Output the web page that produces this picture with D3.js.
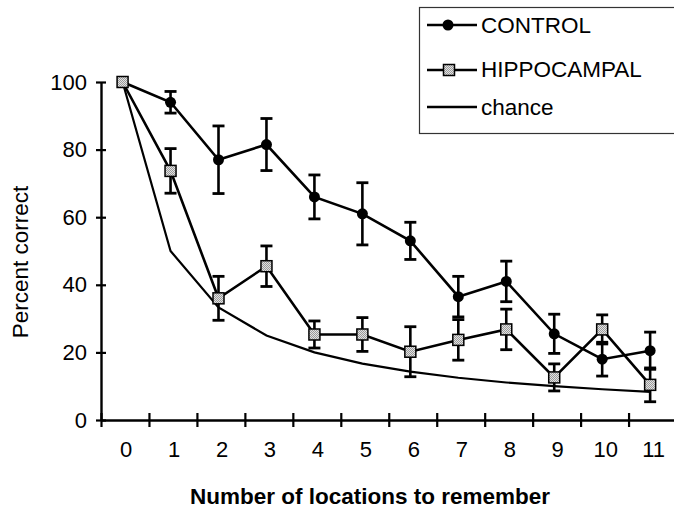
<!DOCTYPE html>
<html>
<head>
<meta charset="utf-8">
<script src="https://cdn.jsdelivr.net/npm/d3@7"></script>
<style>
  html, body { margin: 0; padding: 0; background: #fff; }
  svg { display: block; font-family: "Liberation Sans", Arial, Helvetica, sans-serif; }
</style>
</head>
<body>
<svg id="chart" width="674" height="510"></svg>
<script>
// Number of locations to remember (x categories)
const locations = [0, 1, 2, 3, 4, 5, 6, 7, 8, 9, 10, 11];

// Percent correct, control group, with error (± half-bar length)
const controlValues = [100, 94, 77, 81.5, 66, 61, 53, 36.5, 41, 25.5, 18, 20.5];
const controlErrors = [0, 3.2, 10, 7.7, 6.5, 9.2, 5.5, 6, 6, 5.8, 5, 5.5];

// Percent correct, hippocampal group, with error
const hippoValues = [100, 73.7, 36, 45.5, 25.3, 25.3, 20.2, 23.7, 26.8, 12.6, 26.8, 10.4];
const hippoErrors = [0, 6.6, 6.5, 6, 4, 5, 7.4, 6, 6, 4, 4.3, 5];

// Chance performance
const chanceValues = [100, 50, 33.3, 25, 20, 16.7, 14.3, 12.5, 11.1, 10, 9.1, 8.3];

const yTicks = [0, 20, 40, 60, 80, 100];
const legendLabels = ["CONTROL", "HIPPOCAMPAL", "chance"];

const svg = d3.select("#chart");

// Stippled grey fill for the square markers
const defs = svg.append("defs");
const pat = defs.append("pattern")
  .attr("id", "stipple").attr("width", 2).attr("height", 2)
  .attr("patternUnits", "userSpaceOnUse");
pat.append("rect").attr("width", 2).attr("height", 2).attr("fill", "#e2e2e2");
pat.append("rect").attr("x", 0).attr("y", 0).attr("width", 1).attr("height", 1).attr("fill", "#9a9a9a");
pat.append("rect").attr("x", 1).attr("y", 1).attr("width", 1).attr("height", 1).attr("fill", "#9a9a9a");

const axisX = 101, axisY = 420;
const x = d3.scaleLinear().domain([-0.45, 11.55]).range([axisX, axisX + 12 * 47.96]);
const y = d3.scaleLinear().domain([0, 100]).range([axisY, 82]);

// Y axis with ticks crossing the spine
const gy = svg.append("g").attr("transform", `translate(${axisX},0)`)
  .call(d3.axisLeft(y).tickValues(yTicks).tickSize(0).tickPadding(14));
gy.select(".domain").attr("stroke", "#000").attr("stroke-width", 2.4);
gy.selectAll(".tick line").attr("x1", -5).attr("x2", 5).attr("stroke", "#000").attr("stroke-width", 2.2);
gy.selectAll(".tick text").attr("font-size", 22).attr("fill", "#000")
  .attr("font-family", "'Liberation Sans', Arial, sans-serif");

// X axis: tick marks between categories, labels under each category
const boundaries = locations.map(d => d - 0.45);
const gx = svg.append("g").attr("transform", `translate(0,${axisY})`)
  .call(d3.axisBottom(x).tickValues(boundaries).tickSize(0).tickFormat(""));
gx.select(".domain").attr("stroke", "#000").attr("stroke-width", 2.4);
gx.selectAll(".tick line").attr("y1", -7).attr("y2", 7).attr("stroke", "#000").attr("stroke-width", 2.2);

const gxl = svg.append("g").attr("transform", `translate(3,${axisY})`)
  .call(d3.axisBottom(x).tickValues(locations).tickSize(0).tickPadding(21).tickFormat(d3.format("d")));
gxl.select(".domain").remove();
gxl.selectAll(".tick text").attr("font-size", 22).attr("fill", "#000")
  .attr("font-family", "'Liberation Sans', Arial, sans-serif");

// Axis titles
svg.append("text")
  .attr("transform", "translate(28,262) rotate(-90)")
  .attr("text-anchor", "middle")
  .attr("font-size", 22.5)
  .text("Percent correct");

svg.append("text")
  .attr("x", 370).attr("y", 504)
  .attr("text-anchor", "middle")
  .attr("font-size", 22.5).attr("font-weight", "bold")
  .text("Number of locations to remember");

const line = d3.line().x((d, i) => x(locations[i])).y(d => y(d));

// Series lines
svg.append("path").datum(chanceValues).attr("d", line)
  .attr("fill", "none").attr("stroke", "#000").attr("stroke-width", 2.2);
svg.append("path").datum(hippoValues).attr("d", line)
  .attr("fill", "none").attr("stroke", "#000").attr("stroke-width", 2.6);
svg.append("path").datum(controlValues).attr("d", line)
  .attr("fill", "none").attr("stroke", "#000").attr("stroke-width", 2.6);

// Error bars
function errorBars(values, errors) {
  const data = locations.map((d, i) => ({ x: d, v: values[i], e: errors[i] })).filter(d => d.e > 0);
  const g = svg.append("g").attr("stroke", "#000");
  g.selectAll("line.stem").data(data).join("line").attr("class", "stem")
    .attr("x1", d => x(d.x)).attr("x2", d => x(d.x))
    .attr("y1", d => y(d.v + d.e)).attr("y2", d => y(d.v - d.e))
    .attr("stroke-width", 2.6);
  ["top", "bottom"].forEach(side => {
    g.selectAll("line.cap-" + side).data(data).join("line").attr("class", "cap-" + side)
      .attr("x1", d => x(d.x) - 6).attr("x2", d => x(d.x) + 6)
      .attr("y1", d => y(side === "top" ? d.v + d.e : d.v - d.e))
      .attr("y2", d => y(side === "top" ? d.v + d.e : d.v - d.e))
      .attr("stroke-width", 2.8);
  });
}
errorBars(controlValues, controlErrors);
errorBars(hippoValues, hippoErrors);

// Markers
svg.append("g").selectAll("circle").data(controlValues).join("circle")
  .attr("cx", (d, i) => x(locations[i])).attr("cy", d => y(d))
  .attr("r", 5.5).attr("fill", "#000");

svg.append("g").selectAll("rect").data(hippoValues).join("rect")
  .attr("x", (d, i) => x(locations[i]) - 5.5).attr("y", d => y(d) - 5.5)
  .attr("width", 11).attr("height", 11)
  .attr("fill", "url(#stipple)").attr("stroke", "#000").attr("stroke-width", 1.5);

// Legend
const lg = svg.append("g");
lg.append("rect").attr("x", 419.5).attr("y", 7.5).attr("width", 300).attr("height", 126)
  .attr("fill", "#fff").attr("stroke", "#333").attr("stroke-width", 1.2);
const rowY = [25, 70, 107];
const baseY = [33, 77, 115];
legendLabels.forEach((lab, i) => {
  lg.append("line").attr("x1", 427).attr("x2", 477).attr("y1", rowY[i]).attr("y2", rowY[i])
    .attr("stroke", "#000").attr("stroke-width", 2.4);
  lg.append("text").attr("x", 481).attr("y", baseY[i]).attr("font-size", 22.5).text(lab);
});
lg.append("circle").attr("cx", 448).attr("cy", rowY[0]).attr("r", 5.5).attr("fill", "#000");
lg.append("rect").attr("x", 443.5).attr("y", rowY[1] - 5.5).attr("width", 11).attr("height", 11)
  .attr("fill", "url(#stipple)").attr("stroke", "#000").attr("stroke-width", 1.5);
</script>
</body>
</html>
